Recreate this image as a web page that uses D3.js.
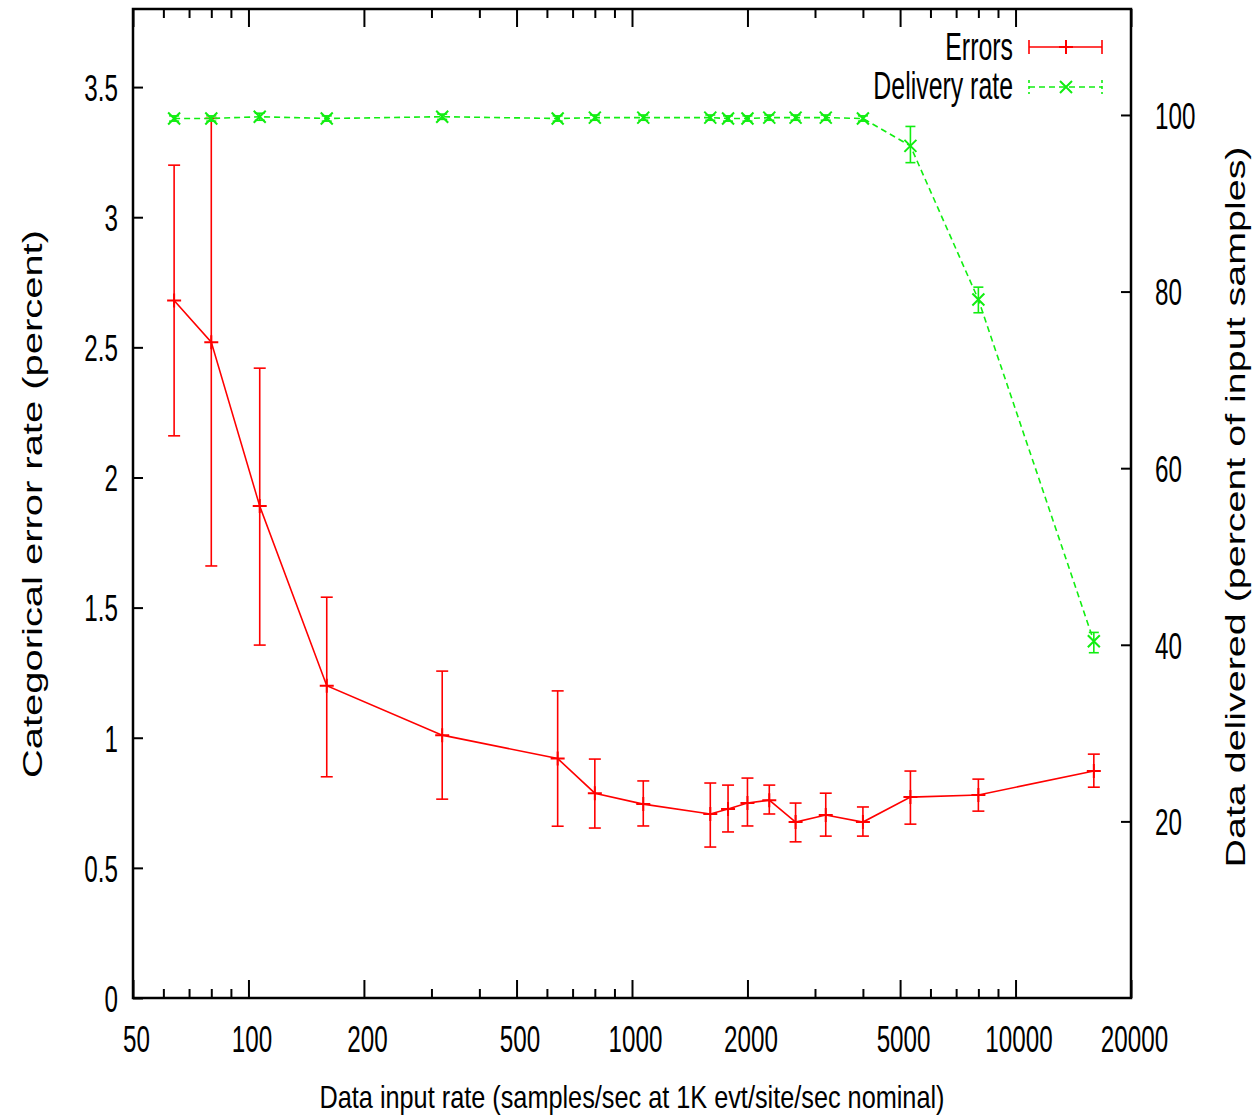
<!DOCTYPE html>
<html>
<head>
<meta charset="utf-8">
<script src="https://cdn.jsdelivr.net/npm/d3@7"></script>
<style>
  body { margin: 0; background: #fff; }
  text { font-family: "Liberation Sans", Arial, sans-serif; fill: #000; }
</style>
</head>
<body>
<svg id="chart" width="1255" height="1118"></svg>
<script>
// input rates (samples/sec) of each run
const rates = [64, 80, 107, 160, 320, 640, 800, 1070, 1600, 1780, 2000, 2280, 2670, 3200, 4000, 5320, 8000, 16000];

// categorical error rate, percent (mean and error bar ends)
const errMean = [2.68, 2.52, 1.89, 1.20, 1.01, 0.92, 0.787, 0.745, 0.707, 0.726, 0.749, 0.76, 0.676, 0.703, 0.676, 0.772, 0.78, 0.872];
const errLow  = [2.16, 1.66, 1.356, 0.85, 0.764, 0.66, 0.653, 0.661, 0.58, 0.638, 0.661, 0.707, 0.60, 0.622, 0.622, 0.668, 0.718, 0.81];
const errHigh = [3.20, 3.38, 2.42, 1.54, 1.256, 1.18, 0.918, 0.834, 0.826, 0.818, 0.845, 0.818, 0.749, 0.787, 0.734, 0.872, 0.841, 0.937];

// data delivered, percent of input samples
const delivMean = [99.6, 99.6, 99.8, 99.6, 99.8, 99.6, 99.7, 99.7, 99.7, 99.6, 99.6, 99.7, 99.7, 99.7, 99.6, 96.5, 79.1, 40.4];
const delivLow  = [99.3, 99.3, 99.4, 99.3, 99.5, 99.3, 99.4, 99.4, 99.4, 99.3, 99.3, 99.4, 99.4, 99.4, 99.3, 94.6, 77.6, 39.1];
const delivHigh = [99.9, 99.9, 100.2, 99.9, 100.1, 99.9, 100.0, 100.0, 100.0, 99.9, 99.9, 100.0, 100.0, 100.0, 99.9, 98.7, 80.5, 41.4];

// tick values
const xMajor = [50, 100, 200, 500, 1000, 2000, 5000, 10000, 20000];
const yLeftTicks = [0, 0.5, 1, 1.5, 2, 2.5, 3, 3.5];
const yRightTicks = [20, 40, 60, 80, 100];

const svg = d3.select('#chart');
const L = 133, R = 1131, T = 9, B = 998;
const SX = 0.655; // labels are narrow in the original

const x = d3.scaleLog().domain([50, 20000]).range([L, R]);
const yL = d3.scaleLinear().domain([0, 3.8]).range([B, T]);
const yR = d3.scaleLinear().domain([0, 112]).range([B, T]);

// minor ticks: every integer multiple inside each decade, except the majors
let xMinor = [];
[10, 100, 1000, 10000].forEach(p => {
  for (let k = 1; k <= 9; k++) {
    let v = k * p;
    if (v > 50 && v < 20000 && !xMajor.includes(v)) xMinor.push(v);
  }
});

function styleAxis(g) {
  g.select('.domain').remove();
  g.selectAll('line').attr('stroke', '#000').attr('stroke-width', 2);
  g.selectAll('text').attr('font-size', 37).style('font-family', '"Liberation Sans", Arial, sans-serif');
}

// bottom axis
svg.append('g').attr('transform', `translate(0,${B})`)
  .call(d3.axisBottom(x).tickValues(xMinor).tickSize(-9).tickFormat(''))
  .call(styleAxis);
svg.append('g').attr('transform', `translate(0,${B})`)
  .call(d3.axisBottom(x).tickValues(xMajor).tickSize(-18).tickFormat(d3.format('d')))
  .call(styleAxis)
  .call(g => g.selectAll('text').attr('y', 0).attr('dy', 0)
    .attr('transform', `translate(3,54) scale(${SX},1)`));

// top mirror ticks
svg.append('g').attr('transform', `translate(0,${T})`)
  .call(d3.axisTop(x).tickValues(xMinor).tickSize(-9).tickFormat(''))
  .call(styleAxis);
svg.append('g').attr('transform', `translate(0,${T})`)
  .call(d3.axisTop(x).tickValues(xMajor).tickSize(-18).tickFormat(''))
  .call(styleAxis);

// left axis
svg.append('g').attr('transform', `translate(${L},0)`)
  .call(d3.axisLeft(yL).tickValues(yLeftTicks).tickSize(-10).tickFormat(d => String(d)))
  .call(styleAxis)
  .call(g => g.selectAll('text').attr('x', 0).attr('dy', '0.36em')
    .attr('transform', `translate(-15,0) scale(${SX},1)`));

// right axis
svg.append('g').attr('transform', `translate(${R},0)`)
  .call(d3.axisRight(yR).tickValues(yRightTicks).tickSize(-10).tickFormat(d => String(d)))
  .call(styleAxis)
  .call(g => g.selectAll('text').attr('x', 0).attr('dy', '0.36em')
    .attr('transform', `translate(24,0) scale(${SX},1)`));

// frame
svg.append('rect')
  .attr('x', L).attr('y', T).attr('width', R - L).attr('height', B - T)
  .attr('fill', 'none').attr('stroke', '#000').attr('stroke-width', 2.5);

// axis titles
svg.append('text')
  .attr('x', 632).attr('y', 1108)
  .attr('text-anchor', 'middle').attr('font-size', 32)
  .attr('textLength', 625).attr('lengthAdjust', 'spacingAndGlyphs')
  .text('Data input rate (samples/sec at 1K evt/site/sec nominal)');

svg.append('text')
  .attr('transform', 'translate(42,504) rotate(-90)')
  .attr('text-anchor', 'middle').attr('font-size', 27)
  .attr('textLength', 548).attr('lengthAdjust', 'spacingAndGlyphs')
  .text('Categorical error rate (percent)');

svg.append('text')
  .attr('transform', 'translate(1245,507) rotate(-90)')
  .attr('text-anchor', 'middle').attr('font-size', 27)
  .attr('textLength', 721).attr('lengthAdjust', 'spacingAndGlyphs')
  .text('Data delivered (percent of input samples)');

const RED = '#ff0000', GREEN = '#11ee11';
const plus = s => `M${-s},0H${s}M0,${-s}V${s}`;
const cross = s => `M${-s},${-s}L${s},${s}M${-s},${s}L${s},${-s}`;

function drawSeries(mean, low, high, y, color, dash, marker, cap) {
  const pts = rates.map((r, i) => ({ r, m: mean[i], lo: low[i], hi: high[i] }));
  const g = svg.append('g');

  g.append('path').datum(pts)
    .attr('fill', 'none').attr('stroke', color).attr('stroke-width', 1.6)
    .attr('stroke-dasharray', dash)
    .attr('d', d3.line().x(d => x(d.r)).y(d => y(d.m)));

  const bars = g.selectAll('g.bar').data(pts).join('g').attr('class', 'bar')
    .attr('stroke', color).attr('stroke-width', 1.6).attr('fill', 'none');
  bars.append('line')
    .attr('x1', d => x(d.r)).attr('x2', d => x(d.r))
    .attr('y1', d => y(d.lo)).attr('y2', d => y(d.hi));
  bars.append('line')
    .attr('x1', d => x(d.r) - cap).attr('x2', d => x(d.r) + cap)
    .attr('y1', d => y(d.lo)).attr('y2', d => y(d.lo));
  bars.append('line')
    .attr('x1', d => x(d.r) - cap).attr('x2', d => x(d.r) + cap)
    .attr('y1', d => y(d.hi)).attr('y2', d => y(d.hi));
  bars.append('path')
    .attr('transform', d => `translate(${x(d.r)},${y(d.m)})`)
    .attr('stroke-width', 2)
    .attr('d', marker);
}

drawSeries(errMean, errLow, errHigh, yL, RED, null, plus(7), 6);
drawSeries(delivMean, delivLow, delivHigh, yR, GREEN, '6,4', cross(6), 5);

// legend
const legend = [
  { label: 'Errors', color: RED, dash: null, marker: plus(7), ty: 60, ly: 47 },
  { label: 'Delivery rate', color: GREEN, dash: '6,4', marker: cross(6), ty: 99, ly: 87 }
];
const lg = svg.append('g');
legend.forEach(d => {
  lg.append('text')
    .attr('text-anchor', 'end').attr('font-size', 38)
    .attr('transform', `translate(1013,${d.ty}) scale(${SX},1)`)
    .text(d.label);
  const s = lg.append('g').attr('stroke', d.color).attr('stroke-width', 1.6).attr('fill', 'none');
  s.append('line').attr('x1', 1029).attr('x2', 1102).attr('y1', d.ly).attr('y2', d.ly)
    .attr('stroke-dasharray', d.dash);
  [1029, 1102].forEach(cx => {
    s.append('line').attr('x1', cx).attr('x2', cx).attr('y1', d.ly - 7).attr('y2', d.ly + 7)
      .attr('stroke-dasharray', d.dash ? '3,3' : null);
  });
  s.append('path').attr('transform', `translate(1066,${d.ly})`).attr('stroke-width', 2).attr('d', d.marker);
});
</script>
</body>
</html>
